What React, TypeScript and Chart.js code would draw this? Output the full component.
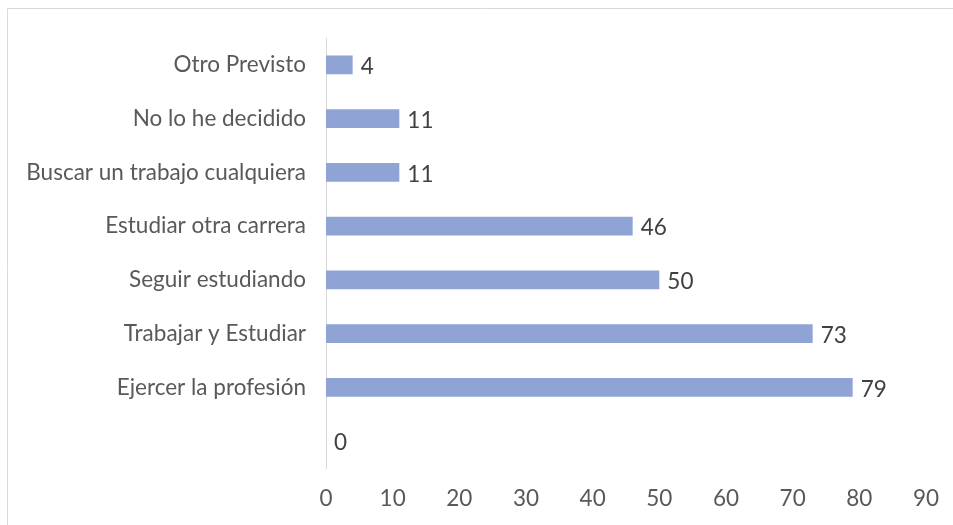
import React, { useEffect, useRef } from "react";
import { Chart, registerables } from "chart.js";

Chart.register(...registerables);

const categories = [
  "Otro Previsto",
  "No lo he decidido",
  "Buscar un trabajo cualquiera",
  "Estudiar otra carrera",
  "Seguir estudiando",
  "Trabajar y Estudiar",
  "Ejercer la profesión",
  "",
];
const values = [4, 11, 11, 46, 50, 73, 79, 0];
const xMin = 0;
const xMax = 90;
const xStep = 10;

const FONT = "Lato, 'Open Sans', sans-serif";
const FS = 22.5;

const frame = {
  id: "frame",
  beforeDraw(chart: any) {
    const ctx = chart.ctx;
    ctx.save();
    ctx.strokeStyle = "#d9d9d9";
    ctx.lineWidth = 1;
    ctx.beginPath();
    ctx.moveTo(7.5, chart.height + 5);
    ctx.lineTo(7.5, 8.5);
    ctx.lineTo(chart.width + 5, 8.5);
    ctx.stroke();
    ctx.restore();
  },
};

const labels = {
  id: "valueLabels",
  afterDatasetsDraw(chart: any) {
    const ctx = chart.ctx;
    const meta = chart.getDatasetMeta(0);
    ctx.save();
    ctx.fillStyle = "#404040";
    ctx.font = `${FS}px ${FONT}`;
    ctx.textAlign = "left";
    ctx.textBaseline = "middle";
    meta.data.forEach((bar: any, i: number) => {
      ctx.fillText(String(values[i]), bar.x + 8, bar.y + 2);
    });
    ctx.restore();
  },
};

export default function App() {
  const ref = useRef<HTMLCanvasElement>(null);
  useEffect(() => {
    if (!ref.current) return;
    const chart = new Chart(ref.current, {
      type: "bar",
      data: {
        labels: categories,
        datasets: [
          {
            data: values,
            backgroundColor: "#8FA4D5",
            borderWidth: 0,
            categoryPercentage: 1,
            barPercentage: 0.35,
          },
        ],
      },
      options: {
        indexAxis: "y",
        animation: false,
        responsive: true,
        maintainAspectRatio: false,
        layout: { padding: { top: 38, right: 27, bottom: 0, left: 0 } },
        plugins: { legend: { display: false }, tooltip: { enabled: false } },
        scales: {
          x: {
            min: xMin,
            max: xMax,
            ticks: {
              stepSize: xStep,
              color: "#595959",
              font: { family: FONT, size: FS },
              padding: 17,
              maxRotation: 0,
            },
            grid: { display: false, drawTicks: false },
            border: { display: false },
            afterFit(scale: any) {
              scale.height = 57;
              scale.paddingRight = 0;
              scale.paddingLeft = 0;
            },
          },
          y: {
            ticks: {
              color: "#595959",
              font: { family: FONT, size: FS },
              padding: 20,
            },
            grid: { display: false, drawTicks: false },
            border: { display: true, color: "#d9d9d9", width: 1 },
            afterFit(scale: any) {
              scale.width = 326;
            },
          },
        },
      },
      plugins: [frame, labels],
    });
    return () => chart.destroy();
  }, []);
  return (
    <div style={{ position: "fixed", left: 0, top: 0, width: 953, height: 525, background: "#fff" }}>
      <canvas ref={ref} />
    </div>
  );
}
